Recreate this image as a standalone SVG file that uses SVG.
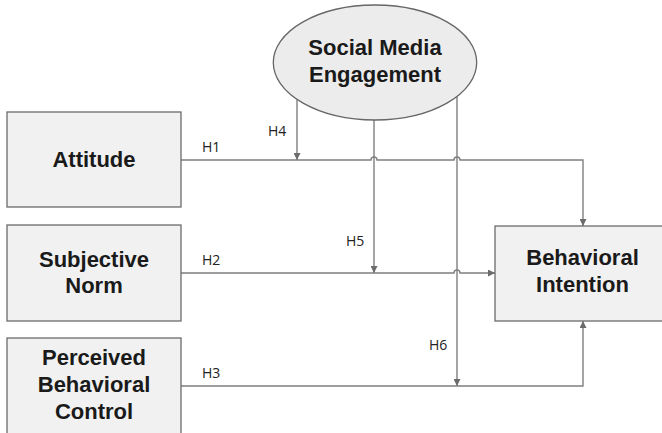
<svg xmlns="http://www.w3.org/2000/svg" width="662" height="433" viewBox="0 0 662 433">
  <style>
    .box { fill: #f1f1f1; stroke: #6b6b6b; stroke-width: 1.3; }
    .oval { fill: #ececec; stroke: #666666; stroke-width: 1.3; }
    .node-text { font-family: "Liberation Sans", Arial, sans-serif; font-weight: bold; font-size: 22px; fill: #1a1a1a; text-anchor: middle; }
    .wire { fill: none; stroke: #7f7f7f; stroke-width: 1.4; }
    .lbl { font-family: "Open Sans", "DejaVu Sans", sans-serif; font-size: 14px; fill: #222222; }
  </style>
  <defs>
    <marker id="arrow" viewBox="0 0 10 10" refX="10" refY="5" markerWidth="7" markerHeight="7" markerUnits="userSpaceOnUse" orient="auto">
      <path d="M0,0 L10,5 L0,10 Z" fill="#6b6b6b"/>
    </marker>
  </defs>

  <rect width="662" height="433" fill="#ffffff"/>

  <!-- connectors -->
  <g id="connectors">
    <!-- H1: Attitude to Behavioral Intention, hopping over two moderator lines -->
    <path class="wire" d="M181,160 H371 A3,3 0 0 1 377,160 H454 A3,3 0 0 1 460,160 H583 V226" marker-end="url(#arrow)"/>
    <!-- H2: Subjective Norm to Behavioral Intention -->
    <path class="wire" d="M181,273 H454 A3,3 0 0 1 460,273 H495" marker-end="url(#arrow)"/>
    <!-- H3: Perceived Behavioral Control to Behavioral Intention -->
    <path class="wire" d="M181,386 H583 V321" marker-end="url(#arrow)"/>
    <!-- H4, H5, H6: moderation from Social Media Engagement -->
    <path class="wire" d="M297,99.4 V160" marker-end="url(#arrow)"/>
    <path class="wire" d="M374,120 V273" marker-end="url(#arrow)"/>
    <path class="wire" d="M457,96.5 V386" marker-end="url(#arrow)"/>

    <text class="lbl" x="202" y="152">H1</text>
    <text class="lbl" x="202" y="265">H2</text>
    <text class="lbl" x="202" y="378">H3</text>
    <text class="lbl" x="268" y="136">H4</text>
    <text class="lbl" x="346" y="246">H5</text>
    <text class="lbl" x="429" y="350">H6</text>
  </g>

  <!-- nodes -->
  <g id="social-media-engagement">
    <ellipse class="oval" cx="375" cy="62.5" rx="101.7" ry="57.5"/>
    <text class="node-text" x="375" y="55">Social Media</text>
    <text class="node-text" x="375" y="82">Engagement</text>
  </g>

  <g id="attitude">
    <rect class="box" x="7" y="112" width="174" height="95"/>
    <text class="node-text" x="94" y="167">Attitude</text>
  </g>

  <g id="subjective-norm">
    <rect class="box" x="7" y="225" width="174" height="96"/>
    <text class="node-text" x="94" y="267">Subjective</text>
    <text class="node-text" x="94" y="293">Norm</text>
  </g>

  <g id="perceived-behavioral-control">
    <rect class="box" x="7" y="338" width="174" height="100"/>
    <text class="node-text" x="94" y="365">Perceived</text>
    <text class="node-text" x="94" y="392">Behavioral</text>
    <text class="node-text" x="94" y="419">Control</text>
  </g>

  <g id="behavioral-intention">
    <rect class="box" x="495" y="226" width="176" height="95"/>
    <text class="node-text" x="582.5" y="265">Behavioral</text>
    <text class="node-text" x="582.5" y="292">Intention</text>
  </g>
</svg>
